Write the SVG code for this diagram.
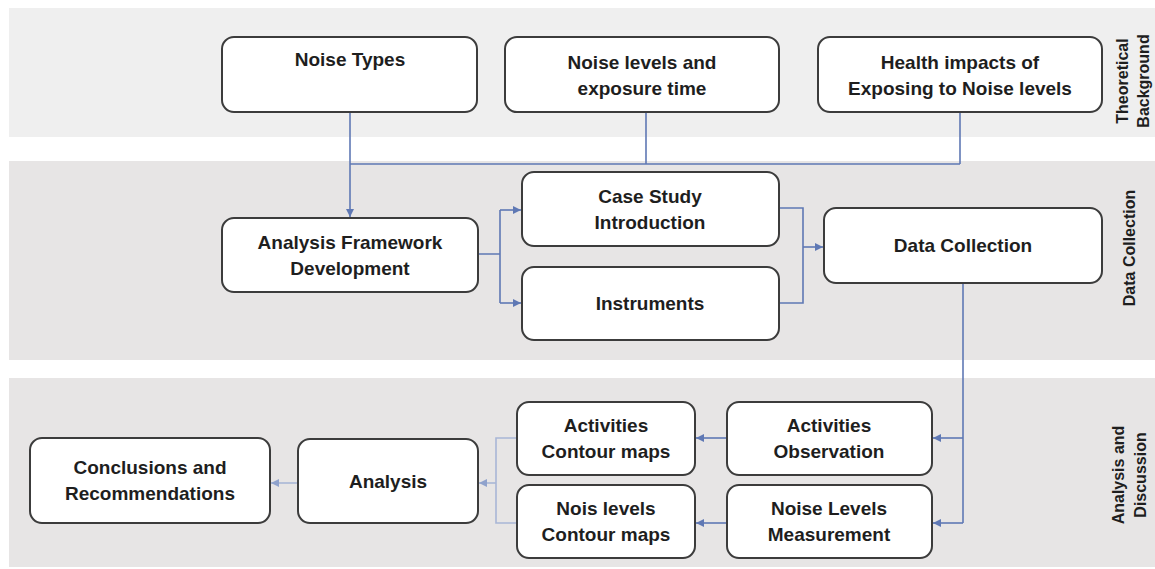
<svg xmlns="http://www.w3.org/2000/svg" width="1155" height="569" viewBox="0 0 1155 569">
  <style>
    .band1 { fill: #efefef; }
    .band { fill: #e7e5e5; }
    .box { fill: #ffffff; stroke: #3c3c3c; stroke-width: 2; }
    .lbl { font-family: "Liberation Sans", Arial, sans-serif; font-weight: bold; font-size: 19px; fill: #1e1e1e; text-anchor: middle; }
    .side { font-family: "Liberation Sans", Arial, sans-serif; font-weight: bold; font-size: 16px; fill: #1e1e1e; text-anchor: middle; }
    .wire { fill: none; stroke: #5f78b4; stroke-width: 1.6; }
    .wire.arr { marker-end: url(#head); }
    .faint { stroke: #a9b6d6; }
    .faint.arr { marker-end: url(#headFaint); }
  </style>
  <defs>
    <marker id="head" markerUnits="userSpaceOnUse" markerWidth="9" markerHeight="8" refX="8" refY="4" orient="auto">
      <path d="M0,0 L8,4 L0,8 Z" fill="#5f78b4"/>
    </marker>
    <marker id="headFaint" markerUnits="userSpaceOnUse" markerWidth="9" markerHeight="8" refX="8" refY="4" orient="auto">
      <path d="M0,0 L8,4 L0,8 Z" fill="#8fa2cc"/>
    </marker>
  </defs>

  <rect width="1155" height="569" fill="#ffffff"/>

  <!-- section bands -->
  <g id="bands">
    <rect class="band1" x="9" y="8" width="1146" height="129"/>
    <rect class="band" x="9" y="161" width="1146" height="199"/>
    <rect class="band" x="9" y="378" width="1146" height="189"/>
  </g>

  <!-- section titles -->
  <g id="section-labels">
    <text class="side" transform="translate(1128,81) rotate(-90)">Theoretical</text>
    <text class="side" transform="translate(1149,81) rotate(-90)">Background</text>
    <text class="side" transform="translate(1135,248) rotate(-90)">Data Collection</text>
    <text class="side" transform="translate(1124,475) rotate(-90)">Analysis and</text>
    <text class="side" transform="translate(1146,475) rotate(-90)">Discussion</text>
  </g>

  <!-- connectors -->
  <g id="connectors">
    <path class="wire arr" d="M350,112 V217"/>
    <path class="wire" d="M646,112 V164 M960,112 V164 M350,164 H960"/>
    <path class="wire" d="M478,254 H500 M500,210 V303"/>
    <path class="wire arr" d="M500,210 H521"/>
    <path class="wire arr" d="M500,303 H521"/>
    <path class="wire" d="M779,208 H803 V303 H779"/>
    <path class="wire arr" d="M803,247 H823"/>
    <path class="wire" d="M963,283 V523"/>
    <path class="wire arr" d="M963,438 H933"/>
    <path class="wire arr" d="M963,523 H933"/>
    <path class="wire arr" d="M727,438 H696"/>
    <path class="wire arr" d="M727,523 H696"/>
    <path class="wire faint" d="M517,438 H496 V523 H517"/>
    <path class="wire faint arr" d="M496,483 H479"/>
    <path class="wire faint arr" d="M298,483 H271"/>
  </g>

  <!-- nodes -->
  <g id="noise-types">
    <rect class="box" x="222" y="37" width="255" height="75" rx="12"/>
    <text class="lbl" x="350" y="66">Noise Types</text>
  </g>
  <g id="noise-levels">
    <rect class="box" x="505" y="37" width="274" height="75" rx="12"/>
    <text class="lbl" x="642" y="69">Noise levels and</text>
    <text class="lbl" x="642" y="95">exposure time</text>
  </g>
  <g id="health-impacts">
    <rect class="box" x="818" y="37" width="284" height="75" rx="12"/>
    <text class="lbl" x="960" y="69">Health impacts of</text>
    <text class="lbl" x="960" y="95">Exposing to Noise levels</text>
  </g>
  <g id="analysis-framework">
    <rect class="box" x="222" y="218" width="256" height="74" rx="12"/>
    <text class="lbl" x="350" y="249">Analysis Framework</text>
    <text class="lbl" x="350" y="275">Development</text>
  </g>
  <g id="case-study">
    <rect class="box" x="522" y="172" width="257" height="74" rx="12"/>
    <text class="lbl" x="650" y="203">Case Study</text>
    <text class="lbl" x="650" y="229">Introduction</text>
  </g>
  <g id="instruments">
    <rect class="box" x="522" y="267" width="257" height="73" rx="12"/>
    <text class="lbl" x="650" y="310">Instruments</text>
  </g>
  <g id="data-collection">
    <rect class="box" x="824" y="208" width="278" height="75" rx="12"/>
    <text class="lbl" x="963" y="252">Data Collection</text>
  </g>
  <g id="activities-observation">
    <rect class="box" x="727" y="402" width="205" height="73" rx="12"/>
    <text class="lbl" x="829" y="432">Activities</text>
    <text class="lbl" x="829" y="458">Observation</text>
  </g>
  <g id="noise-levels-measurement">
    <rect class="box" x="727" y="485" width="205" height="73" rx="12"/>
    <text class="lbl" x="829" y="515">Noise Levels</text>
    <text class="lbl" x="829" y="541">Measurement</text>
  </g>
  <g id="activities-contour">
    <rect class="box" x="517" y="402" width="178" height="73" rx="12"/>
    <text class="lbl" x="606" y="432">Activities</text>
    <text class="lbl" x="606" y="458">Contour maps</text>
  </g>
  <g id="noise-contour">
    <rect class="box" x="517" y="485" width="178" height="73" rx="12"/>
    <text class="lbl" x="606" y="515">Nois levels</text>
    <text class="lbl" x="606" y="541">Contour maps</text>
  </g>
  <g id="analysis">
    <rect class="box" x="298" y="439" width="180" height="84" rx="12"/>
    <text class="lbl" x="388" y="488">Analysis</text>
  </g>
  <g id="conclusions">
    <rect class="box" x="30" y="438" width="240" height="85" rx="12"/>
    <text class="lbl" x="150" y="474">Conclusions and</text>
    <text class="lbl" x="150" y="500">Recommendations</text>
  </g>
</svg>
